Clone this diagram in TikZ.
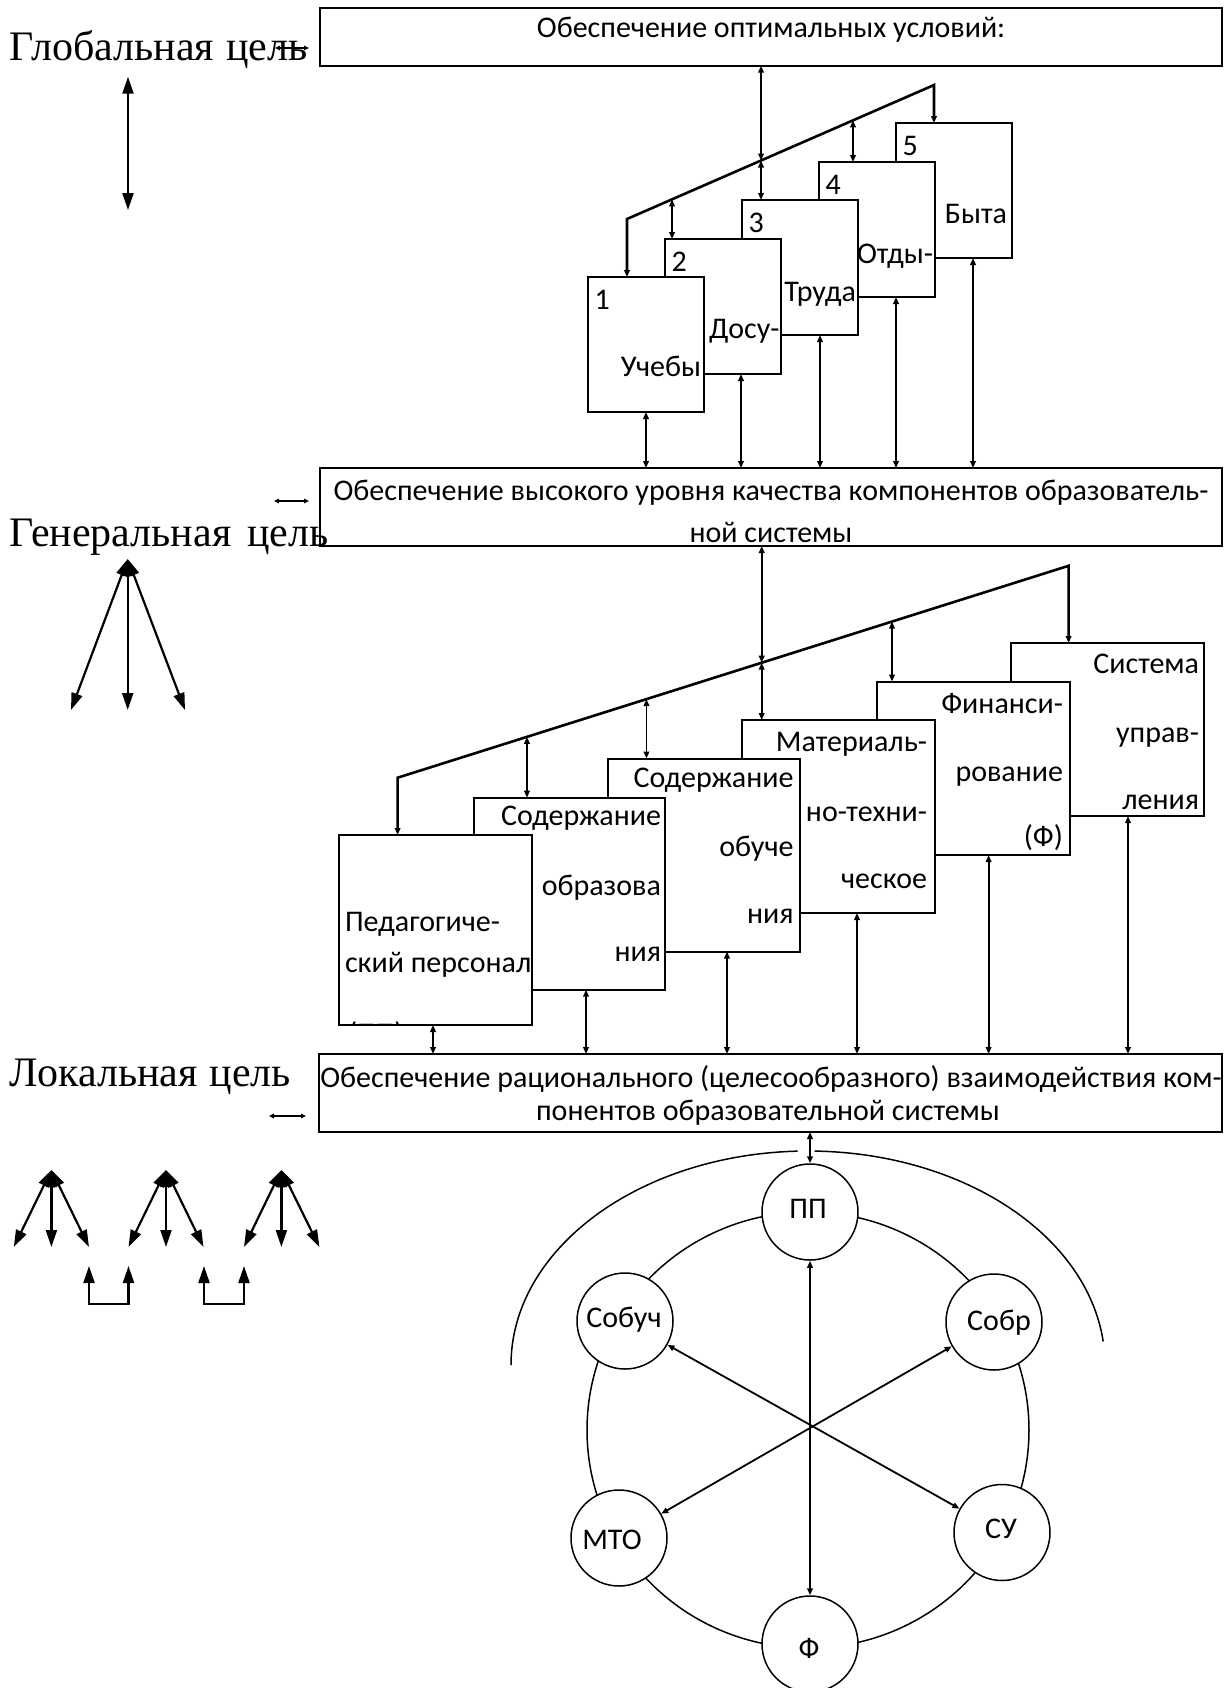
\documentclass[tikz,border=0pt]{standalone}
\usepackage{fontspec}
\setmainfont{Carlito}
\newfontfamily\tnr{Liberation Serif}
\usetikzlibrary{arrows.meta,calc}
\tikzset{
  bx/.style={draw, line width=1pt, fill=white, inner sep=0pt, outer sep=0pt, anchor=north west},
  tx/.style={inner sep=0pt, outer sep=0pt, font=\fontsize{15}{18}\selectfont},
  lab/.style={inner sep=0pt, outer sep=0pt, font=\tnr\fontsize{21}{25}\selectfont, anchor=base west},
  con/.style={line width=0.9pt, arrows={Triangle[length=3.5pt,width=2.8pt]-Triangle[length=3.5pt,width=2.8pt]}},
  diag/.style={line width=1.3pt, line join=miter, arrows={Triangle[length=3.5pt,width=2.8pt]-Triangle[length=3.5pt,width=2.8pt]}},
  big/.style={line width=1.1pt, arrows={Triangle[length=8.5pt,width=5.5pt]-Triangle[length=8.5pt,width=5.5pt]}},
  tiny/.style={line width=0.7pt, arrows={Triangle[length=2.5pt,width=2.2pt]-Triangle[length=2.5pt,width=2.2pt]}},
  ring/.style={line width=0.75pt},
  circ/.style={draw, circle, line width=0.75pt, fill=white, minimum size=48pt, inner sep=0pt},
  spoke/.style={line width=0.9pt, arrows={Triangle[length=3.5pt,width=2.8pt]-Triangle[length=3.5pt,width=2.8pt]}},
}
\begin{document}
\begin{tikzpicture}[x=0.5pt,y=-0.5pt]
\clip (0,0) rectangle (1232,1688);
\fill[white] (0,0) rectangle (1232,1688);

% ---------- top box ----------
\node[bx, minimum width=451pt, minimum height=28.7pt] (T) at (320,8.3) {};
\node[tx, anchor=base] (Tt) at (771,37) {Обеспечение оптимальных условий:};

% ---------- section 1 boxes (back to front) ----------
\node[bx, minimum width=58pt, minimum height=67.5pt] (s5) at (896,123) {};
\node[tx, anchor=base west] (n5) at (902.5,155) {5};
\node[tx, anchor=base east] (w5) at (1007,223) {Быта};
\node[bx, minimum width=58pt, minimum height=67.5pt] (s4) at (819,162) {};
\node[tx, anchor=base west] (n4) at (825.5,194) {4};
\node[tx, anchor=base east] (w4) at (933,263) {Отды-};
\node[bx, minimum width=58pt, minimum height=67.5pt] (s3) at (742,200) {};
\node[tx, anchor=base west] (n3) at (748.5,232.5) {3};
\node[tx, anchor=base east] (w3) at (856,301) {Труда};
\node[bx, minimum width=58pt, minimum height=67.5pt] (s2) at (665,239) {};
\node[tx, anchor=base west] (n2) at (671.5,271) {2};
\node[tx, anchor=base east] (w2) at (779.5,338) {Досу-};
\node[bx, minimum width=58pt, minimum height=67.5pt] (s1) at (588,277) {};
\node[tx, anchor=base west] (n1) at (594.5,309.5) {1};
\node[tx, anchor=base east] (w1) at (701,376) {Учебы};

% ---------- general box ----------
\node[bx, minimum width=451pt, minimum height=39pt] (G) at (320,468) {};
\node[tx, anchor=base] (Gt1) at (771,500.8) {Обеспечение высокого уровня качества компонентов образователь-};
\node[tx, anchor=base] (Gt2) at (771,542) {ной системы};

% ---------- section 1 connectors ----------
\coordinate (d1L) at (627,219);
\coordinate (d1R) at (934,85);
\draw[diag] (d1L |- s1.north) -- (d1L) -- (d1R) -- (d1R |- s5.north);
\coordinate (c1) at ($(d1L)!0.1466!(d1R)$);
\coordinate (c2) at ($(d1L)!0.4365!(d1R)$);
\coordinate (c3) at ($(d1L)!0.7362!(d1R)$);
\draw[con] (c1) -- (c1 |- s2.north);
\draw[con] (T.south -| c2) -- (c2);
\draw[con] (c2) -- (c2 |- s3.north);
\draw[con] (c3) -- (c3 |- s4.north);
\coordinate (g1) at (646,0);
\coordinate (g2) at (741,0);
\coordinate (g3) at (820,0);
\coordinate (g4) at (896,0);
\coordinate (g5) at (973,0);
\draw[con] (G.north -| g1) -- (s1.south -| g1);
\draw[con] (G.north -| g2) -- (s2.south -| g2);
\draw[con] (G.north -| g3) -- (s3.south -| g3);
\draw[con] (G.north -| g4) -- (s4.south -| g4);
\draw[con] (G.north -| g5) -- (s5.south -| g5);

% ---------- section 2 boxes (back to front) ----------
\node[bx, minimum width=96.5pt, minimum height=86.5pt] (p6) at (1011,643) {};
\node[tx, anchor=base east] (p6a) at (1199,673.5) {Система};
\node[tx, anchor=base east] (p6b) at (1199,742) {управ-};
\node[tx, anchor=base east] (p6c) at (1199,809) {ления};
\node[bx, minimum width=96.5pt, minimum height=86.75pt] (p5) at (876.5,681.5) {};
\node[tx, anchor=base east] (p5a) at (1063,713) {Финанси-};
\node[tx, anchor=base east] (p5b) at (1063,781.5) {рование};
\node[tx, anchor=base east] (p5c) at (1063,846) {(Ф)};
\node[bx, minimum width=96.5pt, minimum height=96.5pt] (p4) at (742,720) {};
\node[tx, anchor=base east] (p4a) at (927,751.5) {Материаль-};
\node[tx, anchor=base east] (p4b) at (927,821) {но-техни-};
\node[tx, anchor=base east] (p4c) at (927,888) {ческое};
\node[bx, minimum width=96pt, minimum height=96.5pt] (p3) at (608,758.5) {};
\node[tx, anchor=base east] (p3a) at (793.5,787.3) {Содержание};
\node[tx, anchor=base east] (p3b) at (793.5,856) {обуче};
\node[tx, anchor=base east] (p3c) at (793.5,923.3) {ния};
\node[bx, minimum width=95.75pt, minimum height=96pt] (p2) at (473.5,797.7) {};
\node[tx, anchor=base east] (p2a) at (661,825) {Содержание};
\node[tx, anchor=base east] (p2b) at (661,895) {образова};
\node[tx, anchor=base east] (p2c) at (661,961.7) {ния};
\node[bx, minimum width=96.5pt, minimum height=95pt] (p1) at (338.7,835) {};
\node[tx, anchor=base west] (p1a) at (345,931.7) {Педагогиче-};
\node[tx, anchor=base west] (p1b) at (345,972.7) {ский персонал};
\begin{scope}
\clip (p1.south west) rectangle (p1.north east);
\node[tx, anchor=base west] (p1c) at (348,1043) {(ПП)};
\end{scope}
\draw[line width=1pt] (p1.south west) rectangle (p1.north east);

% ---------- local box ----------
\node[bx, minimum width=451.5pt, minimum height=39pt] (L) at (319,1054) {};
\node[tx, anchor=base] (Lt1) at (771,1087) {Обеспечение рационального (целесообразного) взаимодействия ком-};
\node[tx, anchor=base] (Lt2) at (768,1120) {понентов образовательной системы};

% ---------- section 2 connectors ----------
\coordinate (d2L) at (397.6,777.7);
\coordinate (d2R) at (1068.6,565.8);
\draw[diag] (d2L |- p1.north) -- (d2L) -- (d2R) -- (d2R |- p6.north);
\coordinate (e1) at ($(d2L)!0.1928!(d2R)$);
\coordinate (e2) at ($(d2L)!0.3709!(d2R)$);
\coordinate (e3) at ($(d2L)!0.5426!(d2R)$);
\coordinate (e4) at ($(d2L)!0.7368!(d2R)$);
\draw[con] (e1) -- (e1 |- p2.north);
\draw[con] (e2) -- (e2 |- p3.north);
\draw[con] (G.south -| e3) -- (e3);
\draw[con] (e3) -- (e3 |- p4.north);
\draw[con] (e4) -- (e4 |- p5.north);
\coordinate (h1) at (433,0);
\coordinate (h2) at (586,0);
\coordinate (h3) at (727,0);
\coordinate (h4) at (857,0);
\coordinate (h5) at (988.6,0);
\coordinate (h6) at (1128,0);
\draw[con] (L.north -| h1) -- (p1.south -| h1);
\draw[con] (L.north -| h2) -- (p2.south -| h2);
\draw[con] (L.north -| h3) -- (p3.south -| h3);
\draw[con] (L.north -| h4) -- (p4.south -| h4);
\draw[con] (L.north -| h5) -- (p5.south -| h5);
\draw[con] (L.north -| h6) -- (p6.south -| h6);

% ---------- circle diagram ----------
\coordinate (oc) at (808,1365);
\draw[ring] (oc) ++(180:297 and 214) arc[start angle=180, end angle=268, x radius=297, y radius=214];
\draw[ring] (oc) ++(271.3:297 and 214) arc[start angle=271.3, end angle=353.7, x radius=297, y radius=214];
\draw[ring] (808,1430) ellipse [x radius=221, y radius=218];
\node[circ] (cpp) at (810,1212) {};
\node[circ] (csobuch) at (625,1321) {};
\node[circ] (csobr) at (994,1322) {};
\node[circ] (cmto) at (619,1538) {};
\node[circ] (csu) at (1002,1532.5) {};
\node[circ] (cf) at (810,1644) {};
\node[tx] (tpp) at (808,1209) {ПП};
\node[tx] (tsobuch) at (624,1320) {Собуч};
\node[tx] (tsobr) at (999,1323) {Собр};
\node[tx] (tmto) at (612,1540) {МТО};
\node[tx] (tsu) at (1001,1529) {СУ};
\node[tx] (tf) at (809,1648) {Ф};
\draw[spoke] (cpp) -- (cf);
\draw[spoke] (csobuch) -- (csu);
\draw[spoke] (csobr) -- (cmto);
\draw[con] (L.south -| cpp) -- (cpp.north);

% ---------- left labels (drawn over the boxes) ----------
\node[lab] (lglob) at (10,60) {Глобальная\hspace{6pt}цель};
\node[lab] (lgen) at (10,546) {Генеральная\hspace{8pt}цель};
\node[lab] (lloc) at (10,1086) {Локальная\hspace{6pt}цель};

% ---------- left-hand arrows ----------
\coordinate (a1l) at (275,48); \coordinate (a1r) at (309,48);
\draw[tiny] (a1l) -- (a1r);
\coordinate (a2l) at (274,501); \coordinate (a2r) at (309,501);
\draw[tiny] (a2l) -- (a2r);
\coordinate (a3l) at (269,1116); \coordinate (a3r) at (306,1116);
\draw[tiny] (a3l) -- (a3r);

\coordinate (va1) at (128,76.7); \coordinate (va2) at (128,210);
\draw[big] (va1) -- (va2);

\coordinate (fa) at (127.7,559);
\coordinate (fl) at (71,710); \coordinate (fm) at (127.7,710); \coordinate (fr) at (185,710);
\draw[big] (fa) -- (fl);
\draw[big] (fa) -- (fm);
\draw[big] (fa) -- (fr);

\coordinate (k1) at (51.4,1170);
\coordinate (k1l) at (13.8,1247); \coordinate (k1m) at (51.4,1247); \coordinate (k1r) at (89,1247);
\draw[big] (k1) -- (k1l); \draw[big] (k1) -- (k1m); \draw[big] (k1) -- (k1r);
\coordinate (k2) at (166,1170);
\coordinate (k2l) at (128.5,1247); \coordinate (k2m) at (166,1247); \coordinate (k2r) at (203.5,1247);
\draw[big] (k2) -- (k2l); \draw[big] (k2) -- (k2m); \draw[big] (k2) -- (k2r);
\coordinate (k3) at (281.4,1170);
\coordinate (k3l) at (244,1247); \coordinate (k3m) at (281.4,1247); \coordinate (k3r) at (319.4,1247);
\draw[big] (k3) -- (k3l); \draw[big] (k3) -- (k3m); \draw[big] (k3) -- (k3r);

\coordinate (u1a) at (89,1266); \coordinate (u1b) at (128.5,1266);
\draw[big, line join=miter] (u1a) -- (u1a |- 0,1304) -- (u1b |- 0,1304) -- (u1b);
\coordinate (u2a) at (204,1266); \coordinate (u2b) at (244,1266);
\draw[big, line join=miter] (u2a) -- (u2a |- 0,1304) -- (u2b |- 0,1304) -- (u2b);
\end{tikzpicture}
\end{document}
